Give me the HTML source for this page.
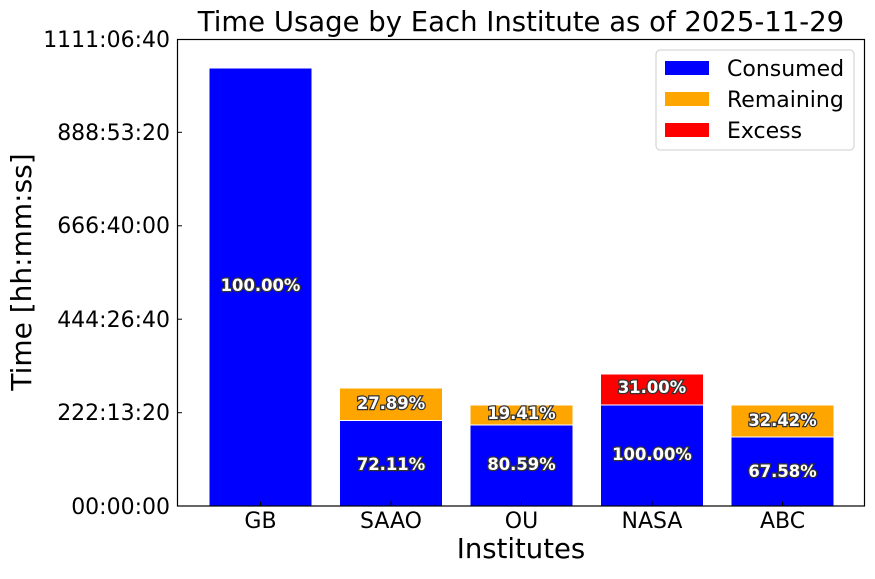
<!DOCTYPE html>
<html><head><style>body{margin:0;background:#fff}</style></head><body>
<svg width="875" height="574" xmlns="http://www.w3.org/2000/svg" font-family="DejaVu Sans, Liberation Sans, sans-serif">
<rect width="875" height="574" fill="#fff"/>
<g stroke="#fff" stroke-width="1">
<rect x="209" y="68" width="103" height="438" fill="#0000ff"/>
<rect x="339.5" y="420.5" width="103" height="85.5" fill="#0000ff"/>
<rect x="339.5" y="388" width="103" height="32.5" fill="#ffa500"/>
<rect x="470" y="425" width="103" height="81" fill="#0000ff"/>
<rect x="470" y="405" width="103" height="20" fill="#ffa500"/>
<rect x="600.5" y="405" width="103" height="101" fill="#0000ff"/>
<rect x="600.5" y="374" width="103" height="31" fill="#ff0000"/>
<rect x="731" y="437" width="103" height="69" fill="#0000ff"/>
<rect x="731" y="405" width="103" height="32" fill="#ffa500"/>
</g>
<g font-size="16.4" font-weight="bold" fill="#fff" stroke="#333" stroke-width="2.5" paint-order="stroke" text-anchor="middle">
<text x="260.5" y="291">100.00%</text>
<text x="391" y="409">27.89%</text>
<text x="391" y="470">72.11%</text>
<text x="521.5" y="419">19.41%</text>
<text x="521.5" y="470">80.59%</text>
<text x="652" y="393">31.00%</text>
<text x="652" y="460">100.00%</text>
<text x="782.5" y="426">32.42%</text>
<text x="782.5" y="477">67.58%</text>
</g>
<rect x="177.5" y="39.5" width="687" height="466.5" fill="none" stroke="#000" stroke-width="1.2"/>
<g stroke="#000" stroke-width="1">
<line x1="177.5" y1="412.7" x2="182" y2="412.7"/>
<line x1="177.5" y1="319.2" x2="182" y2="319.2"/>
<line x1="177.5" y1="225.8" x2="182" y2="225.8"/>
<line x1="177.5" y1="132.3" x2="182" y2="132.3"/>
<line x1="260.5" y1="506" x2="260.5" y2="501.5"/>
<line x1="391" y1="506" x2="391" y2="501.5"/>
<line x1="521.5" y1="506" x2="521.5" y2="501.5"/>
<line x1="652" y1="506" x2="652" y2="501.5"/>
<line x1="782.5" y1="506" x2="782.5" y2="501.5"/>
</g>
<g font-size="22" text-anchor="end">
<text x="170" y="514">00:00:00</text>
<text x="170" y="420">222:13:20</text>
<text x="170" y="327">444:26:40</text>
<text x="170" y="233">666:40:00</text>
<text x="170" y="140">888:53:20</text>
<text x="170" y="47">1111:06:40</text>
</g>
<g font-size="22" text-anchor="middle">
<text x="260.5" y="528">GB</text>
<text x="391" y="528">SAAO</text>
<text x="521.5" y="528">OU</text>
<text x="652" y="528">NASA</text>
<text x="782.5" y="528">ABC</text>
</g>
<text x="521" y="31" font-size="27.5" text-anchor="middle">Time Usage by Each Institute as of 2025-11-29</text>
<text x="521" y="558" font-size="27.5" text-anchor="middle">Institutes</text>
<text transform="translate(31,272) rotate(-90)" font-size="28" text-anchor="middle">Time [hh:mm:ss]</text>
<rect x="656" y="50" width="198" height="100" rx="4" fill="#fff" stroke="#ccc" stroke-width="1"/>
<rect x="665" y="61" width="44" height="14" fill="#0000ff"/>
<rect x="665" y="92" width="44" height="14" fill="#ffa500"/>
<rect x="665" y="123" width="44" height="14" fill="#ff0000"/>
<g font-size="22">
<text x="727" y="76">Consumed</text>
<text x="727" y="107">Remaining</text>
<text x="727" y="138">Excess</text>
</g>
</svg>
</body></html>
